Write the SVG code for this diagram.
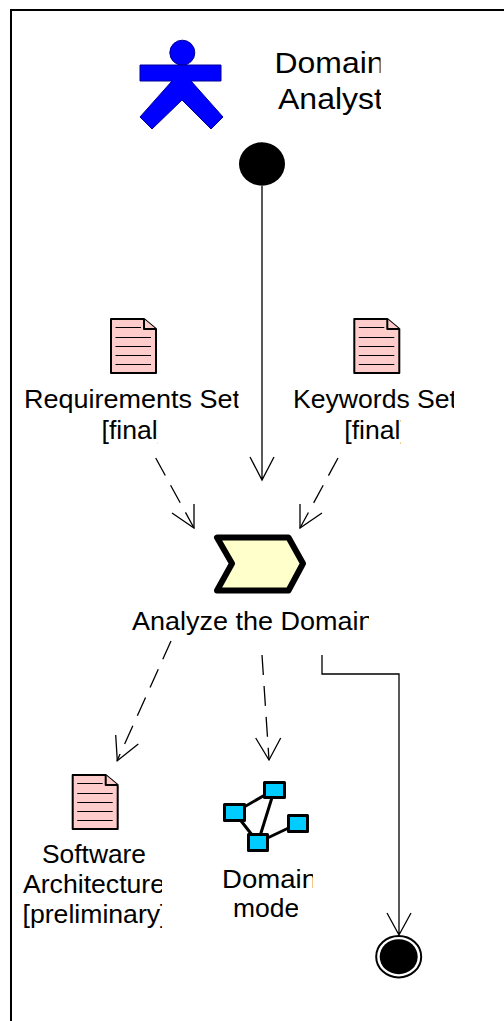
<svg xmlns="http://www.w3.org/2000/svg" width="504" height="1021" viewBox="0 0 504 1021">
<style>
text{font-family:"Liberation Sans",Arial,sans-serif;font-size:26px;fill:#000}
.big{font-size:29.500px}
.doc{fill:#FFCCCC;stroke:#000;stroke-width:2;stroke-linejoin:round}
.rule{fill:none;stroke:#000;stroke-width:1}
.cn{fill:none;stroke:#000;stroke-width:1.3}
.dash{stroke-dasharray:20 11}
.box{fill:#00CCFF;stroke:#000;stroke-width:3;stroke-linejoin:round}
.edge{fill:none;stroke:#000;stroke-width:3}
</style>
<defs>
<symbol id="doc" width="50" height="60" viewBox="0 0 50 60" overflow="visible">
<path class="doc" d="M1 1H34L46 11V55H1Z"/>
<path class="doc" d="M34 1V11H46"/>
<path class="rule" d="M5.500 9.500H31M5.500 19.500H41M5.500 28.500H41M5.500 37.500H41M5.500 46.500H41"/>
</symbol>
<clipPath id="c1"><rect x="270" y="40" width="110.500" height="40"/></clipPath>
<clipPath id="c2"><rect x="270" y="80" width="111" height="40"/></clipPath>
<clipPath id="c3"><rect x="20" y="380" width="218.500" height="36"/></clipPath>
<clipPath id="c4"><rect x="90" y="416" width="67.700" height="36"/></clipPath>
<clipPath id="c5"><rect x="290" y="380" width="164" height="36"/></clipPath>
<clipPath id="c6"><rect x="335" y="416" width="65.700" height="36"/></clipPath>
<clipPath id="c7"><rect x="125" y="605" width="244" height="36"/></clipPath>
<clipPath id="c8"><rect x="15" y="870" width="147" height="60"/></clipPath>
<clipPath id="c9"><rect x="215" y="865" width="98" height="28"/></clipPath>
<clipPath id="c10"><rect x="225" y="893" width="73" height="30"/></clipPath>
</defs>
<rect width="504" height="1021" fill="#fff"/>
<path id="frame" d="M504 10H11V1021" fill="none" stroke="#000" stroke-width="2"/>
<g id="connectors">
<path class="cn" d="M262 186V480M250 457L262 480L274 457"/>
<path class="cn dash" d="M155.700 458L194 528"/>
<path class="cn" d="M194 504V528L172 513"/>
<path class="cn dash" d="M338 458L300 528"/>
<path class="cn" d="M300 504V528L322 513"/>
<path class="cn dash" d="M171 641L117 761"/>
<path class="cn" d="M138.300 744L117.300 760.700L115.700 735"/>
<path class="cn dash" d="M262 655L269 760"/>
<path class="cn" d="M255.700 738L269 760L280.700 738"/>
<path class="cn" d="M322 655V674H399V935M387 913L399 935L411 913"/>
</g>
<g id="actor">
<circle cx="182.300" cy="52.700" r="12.500" fill="#0000FF" stroke="#000099" stroke-width="1"/>
<path d="M140 65H221V81H191L223 117L211 129L182 100L152 129L140 117L172 81H140Z" fill="#0000FF" stroke="#000099" stroke-width="1"/>
<text class="big" x="274.500" y="73" textLength="110" lengthAdjust="spacingAndGlyphs" clip-path="url(#c1)">Domain</text>
<text class="big" x="278" y="109" textLength="105" lengthAdjust="spacingAndGlyphs" clip-path="url(#c2)">Analyst</text>
</g>
<g id="start"><ellipse cx="262" cy="164" rx="23" ry="21.700" fill="#000"/></g>
<g id="requirements">
<use href="#doc" x="110" y="318"/>
<text x="24" y="407.500" textLength="216" lengthAdjust="spacingAndGlyphs" clip-path="url(#c3)">Requirements Set</text>
<text x="101.500" y="438.500" textLength="63.600" lengthAdjust="spacingAndGlyphs" clip-path="url(#c4)">[final]</text>
</g>
<g id="keywords">
<use href="#doc" x="353.300" y="318"/>
<text x="293" y="407.500" textLength="164" lengthAdjust="spacingAndGlyphs" clip-path="url(#c5)">Keywords Set</text>
<text x="344.300" y="438.500" textLength="63.600" lengthAdjust="spacingAndGlyphs" clip-path="url(#c6)">[final]</text>
</g>
<g id="analyze">
<path d="M217 537.500H288.500L303 563.500L288.500 590.500H217L232 563.500Z" fill="#FFFFCC" stroke="#000" stroke-width="6" stroke-linejoin="round"/>
<text x="132" y="630" textLength="241.500" lengthAdjust="spacingAndGlyphs" clip-path="url(#c7)">Analyze the Domain</text>
</g>
<g id="architecture">
<use href="#doc" x="71.700" y="774"/>
<text x="42" y="863" textLength="104" lengthAdjust="spacingAndGlyphs">Software</text>
<text x="23" y="893" textLength="142" lengthAdjust="spacingAndGlyphs" clip-path="url(#c8)">Architecture</text>
<text x="22.500" y="923" textLength="145" lengthAdjust="spacingAndGlyphs" clip-path="url(#c8)">[preliminary]</text>
</g>
<g id="model">
<path class="edge" d="M234.500 812.500L274.500 789.500M234.500 812.500L258 842.500M274.500 789.500L258 842.500M298 823.500L258 842.500"/>
<rect class="box" x="224.500" y="804.500" width="20" height="16"/>
<rect class="box" x="264.500" y="782.500" width="20" height="15"/>
<rect class="box" x="288.500" y="815.500" width="19" height="16"/>
<rect class="box" x="248.500" y="834.500" width="19" height="16"/>
<text x="222" y="888" textLength="95" lengthAdjust="spacingAndGlyphs" clip-path="url(#c9)">Domain</text>
<text x="233" y="917" textLength="72" lengthAdjust="spacingAndGlyphs" clip-path="url(#c10)">model</text>
</g>
<g id="end">
<ellipse cx="398.700" cy="956.700" rx="22.500" ry="20.700" fill="#fff" stroke="#000" stroke-width="2"/>
<ellipse cx="398.700" cy="956.700" rx="19" ry="17.500" fill="#000"/>
</g>
</svg>
